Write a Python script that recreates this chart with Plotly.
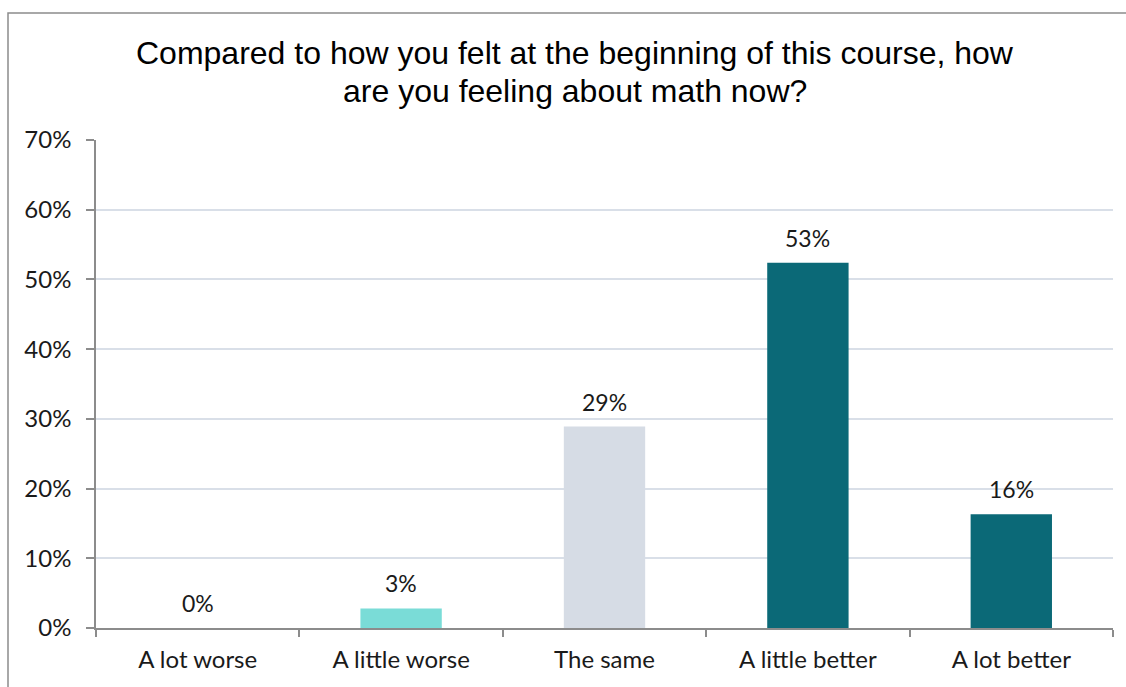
import plotly.graph_objects as go

categories = ["A lot worse", "A little worse", "The same", "A little better", "A lot better"]
values = [0.0, 2.8, 28.9, 52.4, 16.3]
labels = ["0%", "3%", "29%", "53%", "16%"]
colors = ["#7ADCD7", "#7ADCD7", "#D6DCE5", "#0B6977", "#0B6977"]
y_ticks = [0, 10, 20, 30, 40, 50, 60, 70]
y_tick_text = ["0%", "10%", "20%", "30%", "40%", "50%", "60%", "70%"]
title_lines = ["Compared to how you felt at the beginning of this course, how",
               "are you feeling about math now?"]

W, H = 1126, 687
ml, mr, mt, mb = 96, 13, 140, 59
pw, ph = W - ml - mr, H - mt - mb

def px_x(p):
    return (p - ml) / pw

def px_y(p):
    return (H - mb - p) / ph

FONT = "Lato, Open Sans, sans-serif"

fig = go.Figure()
fig.add_trace(go.Bar(
    x=categories, y=values, marker=dict(color=colors, line=dict(width=0)),
    width=0.4, hoverinfo="skip", showlegend=False,
))

for c, v, t in zip(categories, values, labels):
    fig.add_annotation(x=c, y=v, text=t, showarrow=False, yanchor="middle",
                       yshift=25, font=dict(family=FONT, size=23, color="#1a1a1a"))

for line, ypx in zip(title_lines, [53, 91]):
    fig.add_annotation(xref="paper", yref="paper", x=px_x(574.5), y=px_y(ypx),
                       text=line, showarrow=False, xanchor="center", yanchor="middle",
                       font=dict(family="Liberation Sans, Arial, sans-serif", size=32, color="#000000"))

fig.add_shape(type="rect", xref="paper", yref="paper",
              x0=px_x(8), x1=px_x(1140), y0=px_y(700), y1=px_y(13),
              line=dict(color="#8C8C8C", width=1.5), fillcolor="rgba(0,0,0,0)", layer="below")

fig.update_layout(
    width=W, height=H,
    margin=dict(l=ml, r=mr, t=mt, b=mb, pad=0),
    paper_bgcolor="white", plot_bgcolor="white",
    bargap=0.6,
    font=dict(family=FONT, size=23, color="#1a1a1a"),
    xaxis=dict(
        type="category", range=[-0.5, 4.5], showgrid=False,
        showline=True, linecolor="#8C8C8C", linewidth=1.5,
        ticks="outside", tickson="boundaries", ticklen=7, tickcolor="#8C8C8C", tickwidth=1.5,
        tickfont=dict(family=FONT, size=24, color="#1a1a1a"),
        ticklabelstandoff=9, fixedrange=True,
    ),
    yaxis=dict(
        range=[0, 70], tickvals=y_ticks, ticktext=y_tick_text,
        showgrid=True, gridcolor="#D9DFE8", gridwidth=1.5,
        showline=True, linecolor="#8C8C8C", linewidth=1.5,
        ticks="outside", ticklen=8, tickcolor="#8C8C8C", tickwidth=1.5,
        tickfont=dict(family=FONT, size=24, color="#1a1a1a"),
        ticklabelstandoff=10, zeroline=False, fixedrange=True,
    ),
)

fig.write_html("out.html")
